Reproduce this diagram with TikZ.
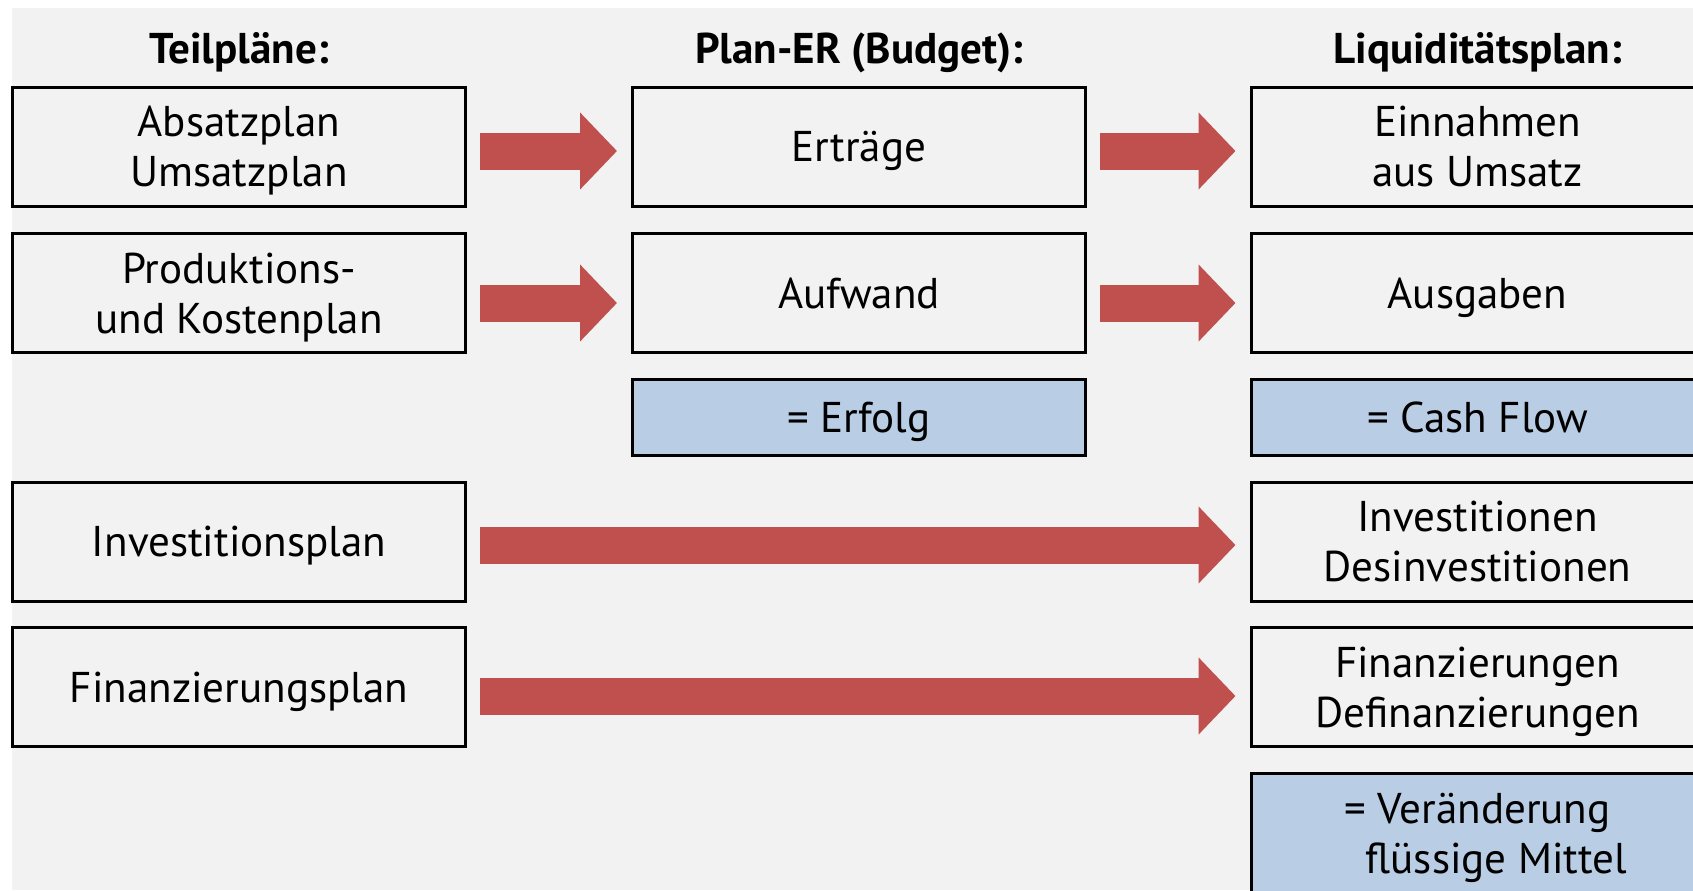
\documentclass[tikz,border=0pt]{standalone}
\usepackage{fontspec}
\setmainfont{PT Sans}
\usetikzlibrary{arrows.meta,positioning,backgrounds}
\definecolor{bgGray}{HTML}{F2F2F2}
\definecolor{arrowRed}{HTML}{C0504D}
\definecolor{sumBlue}{HTML}{B9CDE5}

\begin{document}
\begin{tikzpicture}
\useasboundingbox (0,0) rectangle (33.86,-17.8);
\fill[bgGray] (0.24,-0.16) rectangle (33.86,-17.8);
\tikzstyle{title}=[font=\fontsize{24.5}{28.5}\selectfont\bfseries, anchor=base]
\tikzstyle{plan}=[draw, line width=0.06cm, fill=bgGray, minimum width=9.06cm, minimum height=2.38cm, align=center, inner sep=0pt, text depth=0pt, font=\fontsize{24.5}{28.5}\selectfont]
\tikzstyle{result}=[plan, fill=sumBlue, minimum height=1.52cm]
\tikzstyle{flow}=[arrowRed, line width=0.74cm, -{Triangle[length=0.74cm,width=1.5cm]}, shorten <=0.26cm, shorten >=0.28cm]
% column titles
\node[title] (tteil) at (4.78,-1.26) {Teilpläne:};
\node[title] (tbudget) at (17.18,-1.26) {Plan-ER (Budget):};
\node[title] (tliqui) at (29.55,-1.26) {Liquiditätsplan:};
% Teilpläne
\node[plan] (abs) at (4.78,-2.93) {Absatzplan\\Umsatzplan};
\node[plan] (prod) at (4.78,-5.86) {Produktions-\\und Kostenplan};
\node[plan] (inv) at (4.78,-10.83) {Investitionsplan};
\node[plan] (fin) at (4.78,-13.74) {Finanzierungsplan};
% Plan-ER
\node[plan] (ertr) at (17.18,-2.93) {Erträge};
\node[plan] (aufw) at (17.18,-5.86) {Aufwand};
\node[result] (erf) at (17.18,-8.35) {= Erfolg};
% Liquiditaetsplan
\node[plan] (einn) at (29.55,-2.93) {Einnahmen\\aus Umsatz};
\node[plan] (ausg) at (29.55,-5.86) {Ausgaben};
\node[result] (cf) at (29.55,-8.35) {= Cash Flow};
\node[plan] (invr) at (29.55,-10.83) {Investitionen\\Desinvestitionen};
\node[plan] (finr) at (29.55,-13.74) {Finanzierungen\\Definanzierungen};
\node[plan, fill=sumBlue] (vfm) at (29.55,-16.66) {= Veränderung\\\hspace*{0.75cm}flüssige Mittel};
% arrows
\draw[flow] ([yshift=-0.09cm]abs.east) -- ([yshift=-0.09cm]ertr.west);
\draw[flow] ([yshift=-0.09cm]ertr.east) -- ([yshift=-0.09cm]einn.west);
\draw[flow] ([yshift=-0.2cm]prod.east) -- ([yshift=-0.2cm]aufw.west);
\draw[flow] ([yshift=-0.2cm]aufw.east) -- ([yshift=-0.2cm]ausg.west);
\draw[flow] ([yshift=-0.07cm]inv.east) -- ([yshift=-0.07cm]invr.west);
\draw[flow] ([yshift=-0.18cm]fin.east) -- ([yshift=-0.18cm]finr.west);
\end{tikzpicture}
\end{document}
